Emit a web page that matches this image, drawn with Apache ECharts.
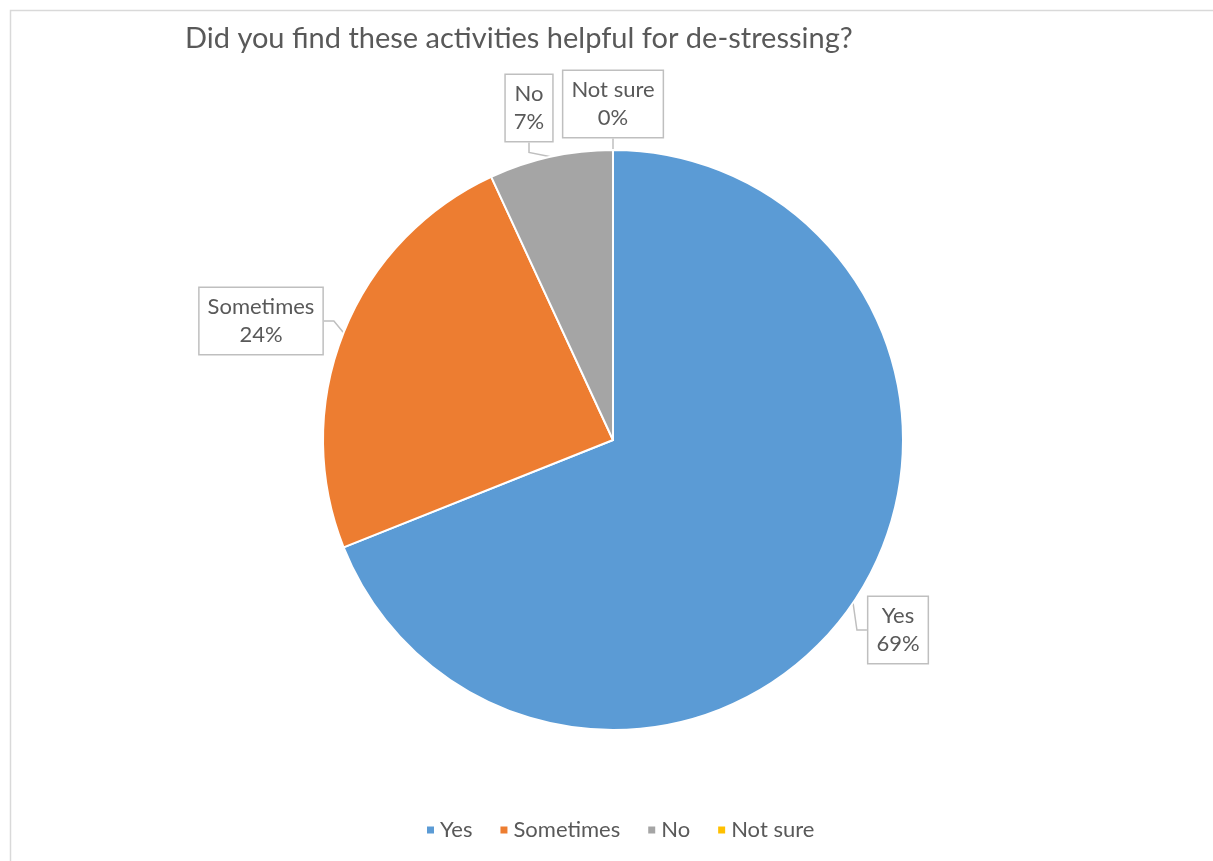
<!DOCTYPE html>
<html>
<head>
<meta charset="utf-8">
<script src="https://cdn.jsdelivr.net/npm/echarts@6/dist/echarts.min.js"></script>
<style>
  html, body { margin: 0; padding: 0; background: #ffffff; }
  #chart { width: 1213px; height: 861px; }
</style>
</head>
<body>
<div id="chart"></div>
<script>
// Data
const titleText = 'Did you find these activities helpful for de-stressing?';
const categories = ['Yes', 'Sometimes', 'No', 'Not sure'];
const counts = [20, 7, 2, 0];
const colors = ['#5B9BD5', '#ED7D31', '#A5A5A5', '#FFC000'];

// Label box centers (layout only)
const labelCenters = [
  { x: 898, y: 630 },
  { x: 261, y: 321 },
  { x: 529, y: 108 },
  { x: 613, y: 104 }
];

const chart = echarts.init(document.getElementById('chart'), null, { renderer: 'canvas' });
const fontFamily = 'Lato, "Open Sans", sans-serif';

chart.setOption({
  backgroundColor: '#ffffff',
  animation: false,
  title: {
    text: titleText,
    left: 180,
    top: 19,
    textStyle: { fontFamily: fontFamily, fontSize: 29, fontWeight: 'normal', color: '#595959' }
  },
  legend: {
    data: categories,
    bottom: 15,
    left: 420,
    icon: 'rect',
    itemWidth: 9,
    itemHeight: 9,
    itemGap: 26,
    textStyle: { fontFamily: fontFamily, fontSize: 22, color: '#595959' }
  },
  graphic: [{
    type: 'rect',
    shape: { x: 10.5, y: 10.5, width: 1300, height: 1000 },
    style: { fill: 'none', stroke: '#d9d9d9', lineWidth: 1.5 },
    silent: true
  }],
  series: [{
    type: 'pie',
    center: [613, 440],
    radius: [0, 290],
    startAngle: 90,
    clockwise: true,
    percentPrecision: 0,
    stillShowZeroSum: true,
    itemStyle: { borderColor: '#ffffff', borderWidth: 2 },
    label: {
      show: true,
      position: 'outside',
      formatter: '{b}\n{d}%',
      fontFamily: fontFamily,
      fontSize: 22,
      lineHeight: 28,
      color: '#595959',
      backgroundColor: '#ffffff',
      borderColor: '#bfbfbf',
      borderWidth: 1.5,
      padding: [5, 8, 5, 8],
      align: 'center'
    },
    labelLine: {
      show: true,
      length: 10,
      length2: 10,
      lineStyle: { color: '#bfbfbf', width: 1.5 }
    },
    labelLayout: function (params) {
      const c = labelCenters[params.dataIndex];
      return { x: c.x, y: c.y, align: 'center', verticalAlign: 'middle' };
    },
    data: categories.map(function (name, i) {
      return { name: name, value: counts[i], itemStyle: { color: colors[i] } };
    })
  }]
});
</script>
</body>
</html>
